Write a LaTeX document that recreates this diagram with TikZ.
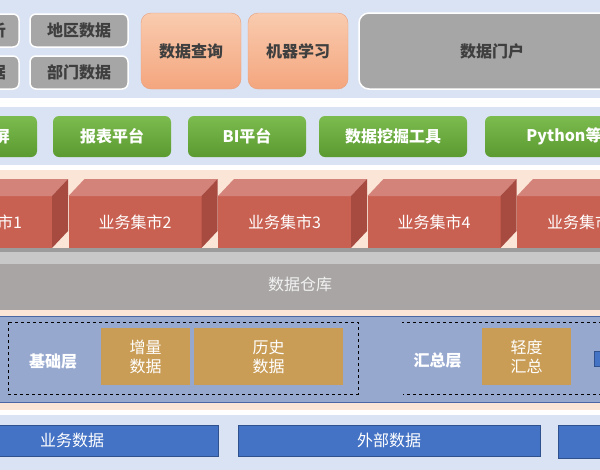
\documentclass[tikz,border=0pt]{standalone}
\usepackage{fontspec}
\usepackage{tikz}
\usetikzlibrary{positioning}
\newfontfamily\cjk{Noto Sans CJK SC}

\definecolor{bandblue}{HTML}{DAE3F3}
\definecolor{peach}{HTML}{FBE5D6}
\definecolor{boxgray}{HTML}{A6A6A6}
\definecolor{textgray}{HTML}{3F3F3F}
\definecolor{orangetop}{HTML}{F9CBAF}
\definecolor{orangebot}{HTML}{F4A67E}
\definecolor{orangeline}{HTML}{E8A07C}
\definecolor{greentop}{HTML}{7CBB4E}
\definecolor{greenbot}{HTML}{5A9A30}
\definecolor{martfront}{HTML}{C96152}
\definecolor{marttop}{HTML}{D4837A}
\definecolor{martside}{HTML}{A74A40}
\definecolor{whtop}{HTML}{C8C8C8}
\definecolor{whfront}{HTML}{A9A5A5}
\definecolor{whshadow}{HTML}{9C9C9C}
\definecolor{layerblue}{HTML}{97A8CF}
\definecolor{layerline}{HTML}{4A67A3}
\definecolor{tanbox}{HTML}{C99D56}
\definecolor{srcblue}{HTML}{4472C4}
\definecolor{srcline}{HTML}{2F528F}

\begin{document}
\begin{tikzpicture}
[
x=1pt, y=-1pt,
every node/.style={inner sep=0, outer sep=0, font=\cjk\fontsize{16}{19}\selectfont},
grey_box/.style={rectangle, rounded corners=6pt, fill=boxgray, draw=white, line width=1.5pt, text=textgray, font=\cjk\bfseries\fontsize{16}{19}\selectfont, minimum width=98pt, minimum height=33pt},
portal/.style={grey_box, rounded corners=10pt, minimum width=266pt, minimum height=76pt},
app/.style={rectangle, rounded corners=10pt, top color=orangetop, bottom color=orangebot, draw=orangeline, text=textgray, font=\cjk\bfseries\fontsize{16}{19}\selectfont, minimum width=100pt, minimum height=76pt},
tool/.style={rectangle, rounded corners=6pt, top color=greentop, bottom color=greenbot, text=white, font=\cjk\bfseries\fontsize{16}{19}\selectfont, minimum width=118pt, minimum height=41pt},
mart/.style={rectangle, fill=martfront, text=white, minimum width=133pt, minimum height=52pt},
mart_top/.style={fill=marttop},
mart_side/.style={fill=martside},
layer/.style={rectangle, fill=layerblue, draw=layerline, thick, minimum width=640pt, minimum height=86pt},
layer_label/.style={text=white, font=\cjk\bfseries\fontsize{16}{19}\selectfont},
dash_frame/.style={draw=black, dashed, thin},
table_box/.style={rectangle, fill=tanbox, text=white, align=center, minimum width=89pt, minimum height=57pt},
source/.style={rectangle, fill=srcblue, draw=srcline, thick, text=white, minimum height=31pt}
]
\useasboundingbox (0,0) rectangle (600,469);
\clip (0,0) rectangle (600,469);

%Bands
\fill[white] (-10,-10) rectangle (610,480);
\fill[bandblue] (-10,-10) rectangle (610,98);
\fill[bandblue] (-10,107) rectangle (610,165);
\fill[peach] (-10,170) rectangle (610,410);
\fill[bandblue] (-10,415) rectangle (610,480);

%Nodes
\node[grey_box] (region)                        at (79,30.5) {地区数据};
\node[grey_box] (dept)   [below=9pt of region]               {部门数据};
\node[grey_box, minimum width=90pt] (anal) [left=11pt of region] {经营分析};
\node[grey_box, minimum width=90pt] (misc) [left=11pt of dept]   {其他数据};
\node[app]      (query)                         at (191,51)  {数据查询};
\node[app]      (ml)     [right=7pt of query]                {机器学习};
\node[portal]   (portal)                        at (492,51)  {数据门户};

\node[tool]     (screen)                        at (-22,136.5) {数据大屏};
\node[tool]     (report) [right=16pt of screen]              {报表平台};
\node[tool]     (bi)     [right=17pt of report]              {BI平台};
\node[tool, minimum width=148pt] (mining) [right=13pt of bi] {数据挖掘工具};
\node[tool, minimum width=190pt] (python) [right=18pt of mining] {Python等工具};

\node[mart]     (m1)                            at (-14.5,222) {业务集市1};
\node[mart]     (m2)     [right=16.5pt of m1]                {业务集市2};
\node[mart]     (m3)     [right=16.5pt of m2]                {业务集市3};
\node[mart]     (m4)     [right=16.5pt of m3]                {业务集市4};
\node[mart]     (m5)     [right=16.5pt of m4]                {业务集市5};

%Cube faces
\fill[mart_top]  (m1.north west) -- ++(16,-17) -- ++(133,0) -- (m1.north east) -- cycle;
\fill[mart_side] (m1.north east) -- ++(16,-17) -- ++(0,52) -- (m1.south east) -- cycle;
\fill[mart_top]  (m2.north west) -- ++(16,-17) -- ++(133,0) -- (m2.north east) -- cycle;
\fill[mart_side] (m2.north east) -- ++(16,-17) -- ++(0,52) -- (m2.south east) -- cycle;
\fill[mart_top]  (m3.north west) -- ++(16,-17) -- ++(133,0) -- (m3.north east) -- cycle;
\fill[mart_side] (m3.north east) -- ++(16,-17) -- ++(0,52) -- (m3.south east) -- cycle;
\fill[mart_top]  (m4.north west) -- ++(16,-17) -- ++(133,0) -- (m4.north east) -- cycle;
\fill[mart_side] (m4.north east) -- ++(16,-17) -- ++(0,52) -- (m4.south east) -- cycle;
\fill[mart_top]  (m5.north west) -- ++(16,-17) -- ++(133,0) -- (m5.north east) -- cycle;
\fill[mart_side] (m5.north east) -- ++(16,-17) -- ++(0,52) -- (m5.south east) -- cycle;

%Warehouse
\fill[whshadow] (-10,248) rectangle (610,252);
\fill[whtop] (-10,252) rectangle (610,264);
\node[rectangle, fill=whfront, text=white!95!black, minimum width=640pt, minimum height=46pt] (dw) at (300,287) {};
\node[text=white!95!black] (dwlabel) at (300,284) {数据仓库};

%Layers
\node[layer]       (odslayer) at (300,359) {};
\draw[dash_frame] (8,322) rectangle (358,394);
\draw[dash_frame] (620,322) -- (402,322);
\draw[dash_frame] (620,394) -- (403,394);
\node[layer_label] (base)     at (53,362)    {基础层};
\node[table_box]   (incr)     at (145.5,356.5) {增量\\数据};
\node[table_box, minimum width=149pt] (hist) at (268.5,356.5) {历史\\数据};
\node[layer_label] (sum)      at (437.5,360) {汇总层};
\node[table_box]   (light)    at (526.5,356.5) {轻度\\汇总};
\node[rectangle, fill=srcblue, draw=srcline, minimum width=14pt, minimum height=15pt] (more) at (601,358.5) {};

%Sources
\node[source, minimum width=292pt] (biz)   at (72,440.5)  {业务数据};
\node[source, minimum width=302pt] (ext)   at (389,440.5) {外部数据};
\node[source, minimum width=142pt, minimum height=33pt] (other) at (629,441.5) {};

\end{tikzpicture}
\end{document}
